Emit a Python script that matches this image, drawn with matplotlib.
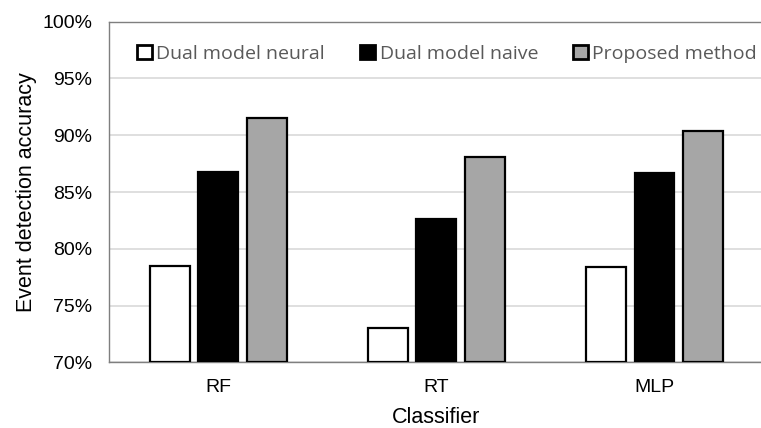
import matplotlib
matplotlib.use("Agg")
import matplotlib.pyplot as plt
import numpy as np
from matplotlib.ticker import FuncFormatter

categories = ["RF", "RT", "MLP"]
series_names = ["Dual model neural", "Dual model naive", "Proposed method"]
neural = [78.5, 73.0, 78.4]
naive = [86.8, 82.6, 86.7]
proposed = [91.5, 88.1, 90.4]
yticks = [70, 75, 80, 85, 90, 95, 100]

colors = ["#ffffff", "#000000", "#a6a6a6"]

fig = plt.figure(figsize=(7.61, 4.28), dpi=100)
ax = fig.add_axes([0.1436, 0.1535, 0.8597, 0.7958])

x = np.arange(len(categories))
w = 0.183
off = 0.2225
for i, (vals, name, c) in enumerate(zip([neural, naive, proposed], series_names, colors)):
    ax.bar(x + (i - 1) * off, np.array(vals) - 70, bottom=70, width=w, color=c,
           edgecolor="black", linewidth=1.6, label=name, zorder=3)

ax.set_xlim(-0.5, 2.5)
ax.set_ylim(70, 100)
ax.set_yticks(yticks)
ax.yaxis.set_major_formatter(FuncFormatter(lambda v, p: f"{v:.0f}%"))
ax.set_xticks(x)
ax.set_xticklabels(categories)
ax.tick_params(axis="both", length=0, labelsize=14, colors="black")
ax.tick_params(axis="y", pad=12)
ax.tick_params(axis="x", pad=12)
for lab in ax.get_xticklabels() + ax.get_yticklabels():
    lab.set_fontfamily("Liberation Sans")

ax.grid(axis="y", color="#d9d9d9", linewidth=1.2, zorder=0)
for s in ["top", "left", "bottom"]:
    ax.spines[s].set_color("#7f7f7f")
    ax.spines[s].set_linewidth(1.0)
ax.spines["right"].set_visible(False)

ax.set_ylabel("Event detection accuracy", fontsize=15.5, fontfamily="Liberation Sans", labelpad=4)
ax.set_xlabel("Classifier", fontsize=15.5, fontfamily="Liberation Sans", labelpad=8)

leg = ax.legend(ncol=3, loc="center left", bbox_to_anchor=(0.0305, 0.905), frameon=False,
                handlelength=0.75, handleheight=0.75, handletextpad=0.25, columnspacing=1.8,
                prop={"family": "Open Sans", "size": 14}, borderaxespad=0)
for t in leg.get_texts():
    t.set_color("#595959")
for h in leg.legend_handles:
    h.set_linewidth(2.0)

fig.savefig("out.png", dpi=100)
